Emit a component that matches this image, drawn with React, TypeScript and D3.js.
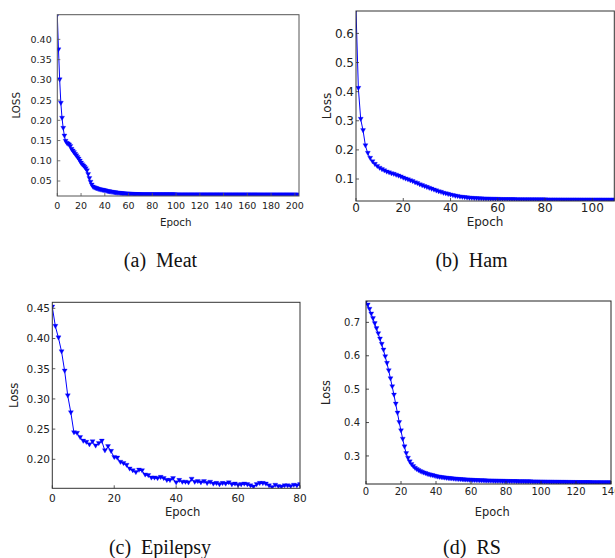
import React from 'react';
import * as d3 from 'd3';

// loss per epoch (index = epoch)
const meatLoss = [
  0.460, 0.374, 0.300, 0.242, 0.205, 0.180, 0.161, 0.148, 0.143, 0.141,
  0.139, 0.135, 0.128, 0.124, 0.120, 0.116, 0.112, 0.108, 0.104, 0.099,
  0.094, 0.090, 0.087, 0.084, 0.080, 0.075, 0.066, 0.056, 0.047, 0.040,
  0.035, 0.033, 0.032, 0.031, 0.030, 0.029, 0.028, 0.0275, 0.027, 0.0265,
  0.026, 0.025, 0.024, 0.0235, 0.023, 0.0225, 0.022, 0.0215, 0.021, 0.0205,
  0.020, 0.0197, 0.0194, 0.0191, 0.0188, 0.0185, 0.0182, 0.018, 0.0178, 0.0176,
  0.0174, 0.0172, 0.0170, 0.0168, 0.0167, 0.0166, 0.0165, 0.0164, 0.0163, 0.0162,
  0.0161, 0.0160, 0.0160, 0.0159, 0.0159, 0.0158, 0.0158, 0.0157, 0.0157, 0.0157,
  0.0156, 0.0156, 0.0156, 0.0156, 0.0156, 0.0156, 0.0156, 0.0156, 0.0156, 0.0156,
  0.0156, 0.0156, 0.0156, 0.0156, 0.0156, 0.0156, 0.0156, 0.0156, 0.0156, 0.0156,
  0.0155, 0.0155, 0.0155, 0.0155, 0.0155, 0.0155, 0.0155, 0.0155, 0.0155, 0.0155,
  0.0155, 0.0155, 0.0155, 0.0155, 0.0155, 0.0155, 0.0155, 0.0155, 0.0155, 0.0155,
  0.0155, 0.0155, 0.0155, 0.0155, 0.0155, 0.0155, 0.0155, 0.0155, 0.0155, 0.0155,
  0.0155, 0.0155, 0.0155, 0.0155, 0.0155, 0.0155, 0.0155, 0.0155, 0.0155, 0.0155,
  0.0154, 0.0154, 0.0154, 0.0154, 0.0154, 0.0154, 0.0154, 0.0154, 0.0154, 0.0154,
  0.0154, 0.0154, 0.0154, 0.0154, 0.0154, 0.0154, 0.0154, 0.0154, 0.0154, 0.0154,
  0.0154, 0.0154, 0.0154, 0.0154, 0.0154, 0.0154, 0.0154, 0.0154, 0.0154, 0.0154,
  0.0153, 0.0153, 0.0153, 0.0153, 0.0153, 0.0153, 0.0153, 0.0153, 0.0153, 0.0153,
  0.0153, 0.0153, 0.0153, 0.0153, 0.0153, 0.0153, 0.0153, 0.0153, 0.0153, 0.0153,
  0.0153, 0.0153, 0.0153, 0.0153, 0.0153, 0.0153, 0.0153, 0.0153, 0.0153, 0.0153,
  0.0152, 0.0152, 0.0152, 0.0152,
];

const hamLoss = [
  0.680, 0.411, 0.305, 0.266, 0.214, 0.188, 0.171, 0.159, 0.150, 0.143,
  0.137, 0.132, 0.128, 0.124, 0.121, 0.118, 0.116, 0.113, 0.110, 0.107,
  0.103, 0.100, 0.097, 0.094, 0.091, 0.087, 0.084, 0.080, 0.077, 0.074,
  0.071, 0.068, 0.065, 0.062, 0.059, 0.056, 0.054, 0.051, 0.049, 0.047,
  0.045, 0.043, 0.041, 0.040, 0.038, 0.037, 0.036, 0.035, 0.034, 0.0335,
  0.033, 0.0325, 0.032, 0.0316, 0.0312, 0.031, 0.0307, 0.0304, 0.0302, 0.030,
  0.0298, 0.0296, 0.0294, 0.0293, 0.0292, 0.0291, 0.029, 0.0289, 0.0288, 0.0287,
  0.0286, 0.0285, 0.0285, 0.0284, 0.0284, 0.0283, 0.0283, 0.0282, 0.0282, 0.0281,
  0.0281, 0.028, 0.028, 0.028, 0.0279, 0.0279, 0.0279, 0.0278, 0.0278, 0.0278,
  0.0277, 0.0277, 0.0277, 0.0277, 0.0277, 0.0276, 0.0276, 0.0276, 0.0276, 0.0276,
  0.0275, 0.0275, 0.0275, 0.0275, 0.0275, 0.0274, 0.0274, 0.0274, 0.0274, 0.0274, 0.0274,
];

const epilepsyLoss = [
  0.452, 0.420, 0.401, 0.378, 0.346, 0.305, 0.277, 0.244, 0.243, 0.236,
  0.230, 0.228, 0.224, 0.229, 0.222, 0.226, 0.230, 0.214, 0.221, 0.213,
  0.203, 0.202, 0.195, 0.193, 0.190, 0.184, 0.181, 0.178, 0.182, 0.181,
  0.174, 0.173, 0.169, 0.169, 0.168, 0.170, 0.168, 0.165, 0.165, 0.168,
  0.161, 0.165, 0.162, 0.162, 0.161, 0.167, 0.162, 0.163, 0.161, 0.163,
  0.160, 0.162, 0.159, 0.160, 0.158, 0.160, 0.159, 0.161, 0.158, 0.159,
  0.157, 0.158, 0.159, 0.158, 0.156, 0.154, 0.158, 0.160, 0.160, 0.159,
  0.156, 0.153, 0.157, 0.155, 0.154, 0.156, 0.156, 0.155, 0.157, 0.156,
  0.158,
];

const rsLoss = [
  0.762, 0.752, 0.739, 0.725, 0.711, 0.696, 0.681, 0.666, 0.650, 0.634,
  0.617, 0.597, 0.577, 0.555, 0.531, 0.507, 0.482, 0.455, 0.428, 0.400,
  0.375, 0.350, 0.327, 0.307, 0.293, 0.282, 0.274, 0.268, 0.263, 0.259,
  0.256, 0.253, 0.251, 0.249, 0.247, 0.245, 0.2435, 0.242, 0.241, 0.2395,
  0.238, 0.237, 0.236, 0.2352, 0.2345, 0.2338, 0.2331, 0.2325, 0.2319, 0.2313,
  0.2308, 0.2303, 0.2298, 0.2294, 0.229, 0.2286, 0.2282, 0.2279, 0.2276, 0.2273,
  0.227, 0.2267, 0.2264, 0.2262, 0.226, 0.2258, 0.2256, 0.2254, 0.2252, 0.225,
  0.2248, 0.2246, 0.2245, 0.2243, 0.2242, 0.224, 0.2239, 0.2238, 0.2237, 0.2236,
  0.2235, 0.2234, 0.2233, 0.2232, 0.2231, 0.223, 0.2229, 0.2228, 0.2227, 0.2226,
  0.2225, 0.2224, 0.2223, 0.2222, 0.2221, 0.222, 0.2219, 0.2218, 0.2217, 0.2216,
  0.2215, 0.2214, 0.2213, 0.2212, 0.2211, 0.221, 0.221, 0.2209, 0.2209, 0.2208,
  0.2208, 0.2207, 0.2207, 0.2206, 0.2206, 0.2205, 0.2205, 0.2204, 0.2204, 0.2203,
  0.2203, 0.2202, 0.2202, 0.2201, 0.2201, 0.22, 0.22, 0.2199, 0.2199, 0.2198,
  0.2198, 0.2197, 0.2197, 0.2196, 0.2196, 0.2195, 0.2195, 0.2194, 0.2194, 0.2193, 0.2193,
];

// tick values
const meatXTicks = [0, 20, 40, 60, 80, 100, 120, 140, 160, 180, 200];
const meatYTicks = [0.05, 0.1, 0.15, 0.2, 0.25, 0.3, 0.35, 0.4];
const hamXTicks = [0, 20, 40, 60, 80, 100];
const hamYTicks = [0.1, 0.2, 0.3, 0.4, 0.5, 0.6];
const epilepsyXTicks = [0, 20, 40, 60, 80];
const epilepsyYTicks = [0.2, 0.25, 0.3, 0.35, 0.4, 0.45];
const rsXTicks = [0, 20, 40, 60, 80, 100, 120, 140];
const rsYTicks = [0.3, 0.4, 0.5, 0.6, 0.7];

const panels = [
  {
    id: 'a', values: meatLoss, xTicks: meatXTicks, yTicks: meatYTicks, yFmt: '.2f',
    xDomain: [0, 203.5], yDomain: [0.013, 0.461],
    box: { left: 57.3, top: 14.7, right: 299, bottom: 196 },
    font: 9.5, labelFont: 10.3, xTickDy: 9.7, yTickGap: 5.6,
    yLabel: 'LOSS', yLabelX: 16.7, xLabelX: 175.7, xLabelY: 222,
    frame: '#555', tag: '(a)', name: 'Meat', capX: 160.5, capY: 266.5,
  },
  {
    id: 'b', values: hamLoss, xTicks: hamXTicks, yTicks: hamYTicks, yFmt: '.1f',
    xDomain: [0, 109.3], yDomain: [0.0245, 0.677],
    box: { left: 356, top: 11, right: 614.3, bottom: 201 },
    font: 12, labelFont: 12, xTickDy: 7, yTickGap: 2,
    yLabel: 'Loss', yLabelX: 326.7, xLabelX: 485, xLabelY: 222,
    frame: '#333', tag: '(b)', name: 'Ham', capX: 471.5, capY: 266.5,
  },
  {
    id: 'c', values: epilepsyLoss, xTicks: epilepsyXTicks, yTicks: epilepsyYTicks, yFmt: '.2f',
    xDomain: [0, 80], yDomain: [0.152, 0.46],
    box: { left: 52.3, top: 302.3, right: 300, bottom: 488.3 },
    font: 10.5, labelFont: 11.6, xTickDy: 10, yTickGap: 2.3,
    yLabel: 'Loss', yLabelX: 14, xLabelX: 182.7, xLabelY: 512,
    frame: '#333', tag: '(c)', name: 'Epilepsy', capX: 160, capY: 554,
  },
  {
    id: 'd', values: rsLoss, xTicks: rsXTicks, yTicks: rsYTicks, yFmt: '.1f',
    xDomain: [0, 140], yDomain: [0.216, 0.764],
    box: { left: 366, top: 301, right: 611, bottom: 484 },
    font: 10, labelFont: 11.4, xTickDy: 7.7, yTickGap: 6,
    yLabel: 'Loss', yLabelX: 325.7, xLabelX: 492.3, xLabelY: 512,
    frame: '#222', tag: '(d)', name: 'RS', capX: 472, capY: 554,
  },
];

const BLUE = '#0000ff';
const TRI = 'M-2.5,-2.1L2.5,-2.1L0,2.2Z';

function Panel({ p }: { p: any }) {
  const { box } = p;
  const x = d3.scaleLinear().domain(p.xDomain).range([box.left, box.right]);
  const y = d3.scaleLinear().domain(p.yDomain).range([box.bottom, box.top]);
  const line = d3.line<number>().x((_, i) => x(i)).y(d => y(d));
  const fmt = d3.format(p.yFmt);
  const clipId = `clip-${p.id}`;

  return (
    <g>
      <defs>
        <clipPath id={clipId}>
          <rect x={box.left} y={box.top} width={box.right - box.left} height={box.bottom - box.top} />
        </clipPath>
      </defs>
      <g clipPath={`url(#${clipId})`}>
        <path d={line(p.values) || ''} fill="none" stroke={BLUE} strokeWidth={1} />
        {p.values.map((v: number, i: number) => (
          <path key={i} d={TRI} transform={`translate(${x(i)},${y(v)})`} fill={BLUE} stroke={BLUE} strokeWidth={0.3} />
        ))}
      </g>
      {/* inward ticks */}
      {p.xTicks.map((t: number) => (
        <line key={'xt' + t} x1={x(t)} x2={x(t)} y1={box.bottom} y2={box.bottom - 3} stroke={p.frame} strokeWidth={0.8} />
      ))}
      {p.yTicks.map((t: number) => (
        <line key={'yt' + t} x1={box.left} x2={box.left + 3} y1={y(t)} y2={y(t)} stroke={p.frame} strokeWidth={0.8} />
      ))}
      <rect x={box.left} y={box.top} width={box.right - box.left} height={box.bottom - box.top}
        fill="none" stroke={p.frame} strokeWidth={1} />
      {/* tick labels */}
      {p.xTicks.map((t: number) => (
        <text key={'xl' + t} x={x(t)} y={box.bottom + p.xTickDy + p.font * 0.36} textAnchor="middle"
          fontSize={p.font} fill="#222">{t}</text>
      ))}
      {p.yTicks.map((t: number) => (
        <text key={'yl' + t} x={box.left - p.yTickGap} y={y(t) + p.font * 0.36} textAnchor="end"
          fontSize={p.font} fill="#222">{fmt(t)}</text>
      ))}
      <text x={p.xLabelX} y={p.xLabelY + p.labelFont * 0.36} textAnchor="middle" fontSize={p.labelFont} fill="#222">Epoch</text>
      <text transform={`translate(${p.yLabelX},${(box.top + box.bottom) / 2}) rotate(-90)`} y={p.labelFont * 0.36}
        textAnchor="middle" fontSize={p.labelFont} fill="#222">{p.yLabel}</text>
      <text x={p.capX} y={p.capY} textAnchor="middle" fontSize={20} fontFamily="'Liberation Serif', 'Times New Roman', serif"
        fill="#111">{p.tag + '\u00a0\u00a0' + p.name}</text>
    </g>
  );
}

export default function App() {
  return (
    <svg width={615} height={558} style={{ position: 'absolute', left: 0, top: 0, background: '#fff' }}
      fontFamily="'DejaVu Sans', sans-serif">
      {panels.map(p => <Panel key={p.id} p={p} />)}
    </svg>
  );
}
